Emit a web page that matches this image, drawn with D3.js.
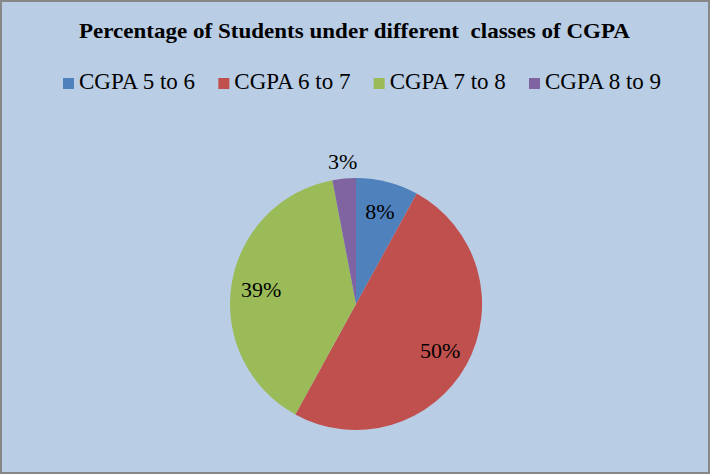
<!DOCTYPE html>
<html>
<head>
<meta charset="utf-8">
<script src="https://cdn.jsdelivr.net/npm/d3@7"></script>
<style>
	html, body { margin: 0; padding: 0; background: #fff; }
	svg { display: block; }
	text { font-family: "Liberation Serif", "Times New Roman", serif; fill: #000; }
</style>
</head>
<body>
<svg id="chart"></svg>
<script>
// data
const categories = ["CGPA 5 to 6", "CGPA 6 to 7", "CGPA 7 to 8", "CGPA 8 to 9"];
const percents = [8, 50, 39, 3];
const colors = ["#4F81BD", "#C0504D", "#9BBB59", "#8064A2"];
const title = "Percentage of Students under different\u00a0 classes of CGPA";

const width = 711, height = 475;
const svg = d3.select("#chart").attr("width", width).attr("height", height);

// frame
svg.append("rect")
	.attr("x", 1).attr("y", 1)
	.attr("width", width - 3).attr("height", height - 3)
	.attr("fill", "#B9CDE5")
	.attr("stroke", "#878787")
	.attr("stroke-width", 2);

svg.append("text")
	.attr("x", 79).attr("y", 38)
	.attr("font-size", 21)
	.attr("font-weight", "bold")
	.attr("textLength", 551)
	.attr("lengthAdjust", "spacingAndGlyphs")
	.text(title);

// legend
const lxScale = d3.scalePoint().domain(categories).range([63, 529]);
const legend = svg.append("g").attr("transform", "translate(0,78)");
const items = legend.selectAll("g")
	.data(categories)
	.join("g")
	.attr("transform", d => `translate(${lxScale(d)},0)`);
items.append("rect")
	.attr("width", 11).attr("height", 11)
	.attr("fill", (d, i) => colors[i]);
items.append("text")
	.attr("x", 16).attr("y", 11)
	.attr("font-size", 23)
	.text(d => d);

// pie
const cx = 356, cy = 304, r = 126;
const color = d3.scaleOrdinal().domain(categories).range(colors);
const pie = d3.pie().sort(null).value(d => d.v);
const arcs = pie(categories.map((c, i) => ({ c, v: percents[i] })));

const arc = d3.arc().innerRadius(0).outerRadius(r);
const inLabel = d3.arc().innerRadius(96).outerRadius(96);
const outLabel = d3.arc().innerRadius(r + 17).outerRadius(r + 17);

const pg = svg.append("g").attr("transform", `translate(${cx},${cy})`);
pg.selectAll("path")
	.data(arcs)
	.join("path")
	.attr("d", arc)
	.attr("fill", d => color(d.data.c));

pg.selectAll("text")
	.data(arcs)
	.join("text")
	.attr("transform", d => `translate(${(d.data.v < 5 ? outLabel : inLabel).centroid(d)})`)
	.attr("text-anchor", "middle")
	.attr("dy", "0.35em")
	.attr("font-size", 22)
	.text(d => d.data.v + "%");
</script>
</body>
</html>
